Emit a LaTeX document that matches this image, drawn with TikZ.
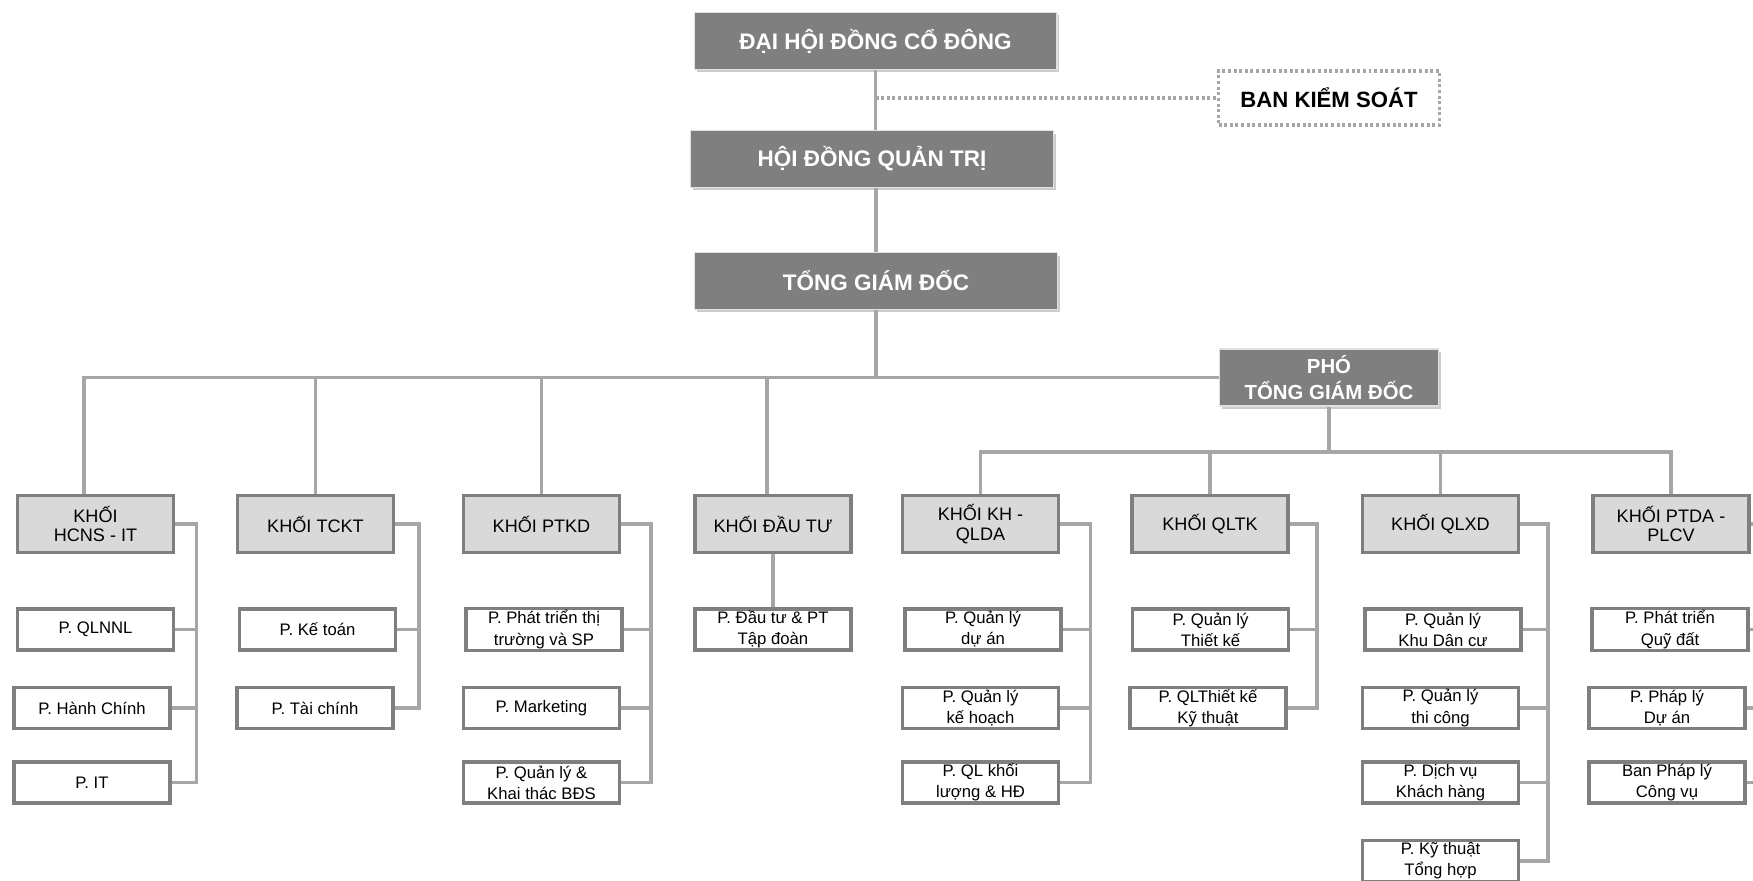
\documentclass[tikz,border=0pt]{standalone}
\usepackage{fontspec}
\setmainfont{Liberation Sans}
\usepackage{tikz}
\usetikzlibrary{shadows}
\definecolor{topfill}{HTML}{7F7F7F}
\definecolor{khoifill}{HTML}{D9D9D9}
\definecolor{boxline}{HTML}{7F7F7F}
\definecolor{linkline}{HTML}{A6A6A6}
\tikzset{
  top box/.style={
    draw=white!88!black,
    line width=0.6pt,
    fill=topfill,
    text=white,
    minimum width=7.26cm,
    minimum height=1.14cm,
    align=center,
    font=\fontsize{12.8}{15}\selectfont\bfseries,
    drop shadow={shadow xshift=0.05cm, shadow yshift=-0.06cm, fill=black, opacity=0.2}
  },
  bks box/.style={
    draw=linkline, line width=1.9pt, dash pattern=on 1.7pt off 1.5pt,
    fill=white, minimum width=4.42cm, minimum height=1.08cm,
    align=center, font=\fontsize{12.6}{15}\selectfont\bfseries
  },
  khoi box/.style={
    draw=boxline, line width=1.9pt, fill=khoifill,
    minimum width=3.12cm, minimum height=1.14cm,
    align=center, inner sep=2pt, font=\fontsize{10.3}{11.3}\selectfont
  },
  phong box/.style={
    draw=boxline, line width=1.9pt, fill=white,
    minimum width=3.12cm, minimum height=0.82cm,
    align=center, inner sep=1pt, font=\fontsize{9.5}{12}\selectfont
  },
  link/.style={draw=linkline, line width=1.9pt},
  dotted link/.style={draw=linkline, line width=1.9pt, dash pattern=on 1.7pt off 1.5pt}
}

\begin{document}
\begin{tikzpicture}[x=0.02cm, y=-0.02cm]
  \clip (0,0) rectangle (1753,881);

  % Top
  \node[top box] (dhdcd) at (875.5,41) {ĐẠI HỘI ĐỒNG CỔ ĐÔNG};
  \node[top box] (hdqt) at (872,159) {HỘI ĐỒNG QUẢN TRỊ};
  \node[top box] (tgd) at (876,281) {TỔNG GIÁM ĐỐC};
  \node[bks box] (bks) at (1329,98) {BAN KIỂM SOÁT};
  \node[top box, minimum width=4.38cm, font=\fontsize{11.6}{14.6}\selectfont\bfseries] (pho) at (1329,377.5) {PHÓ\\TỔNG GIÁM ĐỐC};

  % Khoi
  \node[khoi box] (k1) at (95.5,524) {KHỐI\\HCNS - IT};
  \node[khoi box] (k2) at (315.5,524) {KHỐI TCKT};
  \node[khoi box] (k3) at (541.5,524) {KHỐI PTKD};
  \node[khoi box] (k4) at (773,524) {KHỐI ĐẦU TƯ};
  \node[khoi box] (k5) at (980.5,524) {KHỐI KH -\\QLDA};
  \node[khoi box] (k6) at (1210,524) {KHỐI QLTK};
  \node[khoi box] (k7) at (1440.5,524) {KHỐI QLXD};
  \node[khoi box] (k8) at (1671,524) {KHỐI PTDA -\\PLCV};

  % Phong - HCNS - IT
  \node[phong box] (s11) at (95.5,629.5) {P. QLNNL};
  \node[phong box] (s12) at (92,708) {P. Hành Chính};
  \node[phong box] (s13) at (92,782.5) {P. IT};
  % Phong - TCKT
  \node[phong box] (s21) at (317.5,629.5) {P. Kế toán};
  \node[phong box] (s22) at (315,708) {P. Tài chính};
  % Phong - PTKD
  \node[phong box] (s31) at (544,629.5) {P. Phát triển thị\\trường và SP};
  \node[phong box] (s32) at (541.5,708) {P. Marketing};
  \node[phong box] (s33) at (541.5,782.5) {P. Quản lý \&\\Khai thác BĐS};
  % Phong - Dau tu
  \node[phong box] (s41) at (773,629.5) {P. Đầu tư \& PT\\Tập đoàn};
  % Phong - KH - QLDA
  \node[phong box] (s51) at (983,629.5) {P. Quản lý\\dự án};
  \node[phong box] (s52) at (980.5,708) {P. Quản lý\\kế hoạch};
  \node[phong box] (s53) at (980.5,782.5) {P. QL khối\\lượng \& HĐ};
  % Phong - QLTK
  \node[phong box] (s61) at (1210.5,629.5) {P. Quản lý\\Thiết kế};
  \node[phong box] (s62) at (1208,708) {P. QLThiết kế\\Kỹ thuật};
  % Phong - QLXD
  \node[phong box] (s71) at (1443,629.5) {P. Quản lý\\Khu Dân cư};
  \node[phong box] (s72) at (1440.5,708) {P. Quản lý\\thi công};
  \node[phong box] (s73) at (1440.5,782.5) {P. Dịch vụ\\Khách hàng};
  \node[phong box] (s74) at (1440.5,861) {P. Kỹ thuật\\Tổng hợp};
  % Phong - PTDA - PLCV
  \node[phong box] (s81) at (1670,629.5) {P. Phát triển\\Quỹ đất};
  \node[phong box] (s82) at (1667,708) {P. Pháp lý\\Dự án};
  \node[phong box] (s83) at (1667,782.5) {Ban Pháp lý\\Công vụ};

  % Trunk
  \draw[link] (dhdcd.south) -- (dhdcd.south |- hdqt.north);
  \draw[link] (tgd.north |- hdqt.south) -- (tgd.north);
  \draw[link] (tgd.south) -- (tgd.south |- pho.west);
  \draw[dotted link] (dhdcd.south |- bks.west) -- (bks.west);

  % Level 1
  \draw[link] ([xshift=-0.23cm]k1.north) |- (pho.west);
  \draw[link] (k2.north) -- (k2.north |- pho.west);
  \draw[link] (k3.north) -- (k3.north |- pho.west);
  \draw[link] ([xshift=-0.12cm]k4.north) -- ([xshift=-0.12cm]k4.north |- pho.west);

  % Level 2 (Pho TGD)
  \coordinate (h2) at (1329,452);
  \draw[link] (pho.south) -- (h2);
  \draw[link] (k5.north) |- (h2);
  \draw[link] (k8.north) |- (h2);
  \draw[link] (k6.north) -- (k6.north |- h2);
  \draw[link] (k7.north) -- (k7.north |- h2);

  % Brackets
  \coordinate (b1) at (196.5,524);
  \coordinate (b2) at (419,524);
  \coordinate (b3) at (651,524);
  \coordinate (b5) at (1090.5,524);
  \coordinate (b6) at (1317,524);
  \coordinate (b7) at (1548,524);
  \coordinate (b8) at (1776,524);

  \draw[link] (k1.east) -| (b1 |- s13) -- (s13.east);
  \draw[link] (s11.east) -- (b1 |- s11);
  \draw[link] (s12.east) -- (b1 |- s12);

  \draw[link] (k2.east) -| (b2 |- s22) -- (s22.east);
  \draw[link] (s21.east) -- (b2 |- s21);

  \draw[link] (k3.east) -| (b3 |- s33) -- (s33.east);
  \draw[link] (s31.east) -- (b3 |- s31);
  \draw[link] (s32.east) -- (b3 |- s32);

  \draw[link] (k4.south) -- (s41.north);

  \draw[link] (k5.east) -| (b5 |- s53) -- (s53.east);
  \draw[link] (s51.east) -- (b5 |- s51);
  \draw[link] (s52.east) -- (b5 |- s52);

  \draw[link] (k6.east) -| (b6 |- s62) -- (s62.east);
  \draw[link] (s61.east) -- (b6 |- s61);

  \draw[link] (k7.east) -| (b7 |- s74) -- (s74.east);
  \draw[link] (s71.east) -- (b7 |- s71);
  \draw[link] (s72.east) -- (b7 |- s72);
  \draw[link] (s73.east) -- (b7 |- s73);

  \draw[link] (k8.east) -| (b8 |- s83) -- (s83.east);
  \draw[link] (s81.east) -- (b8 |- s81);
  \draw[link] (s82.east) -- (b8 |- s82);
\end{tikzpicture}
\end{document}
